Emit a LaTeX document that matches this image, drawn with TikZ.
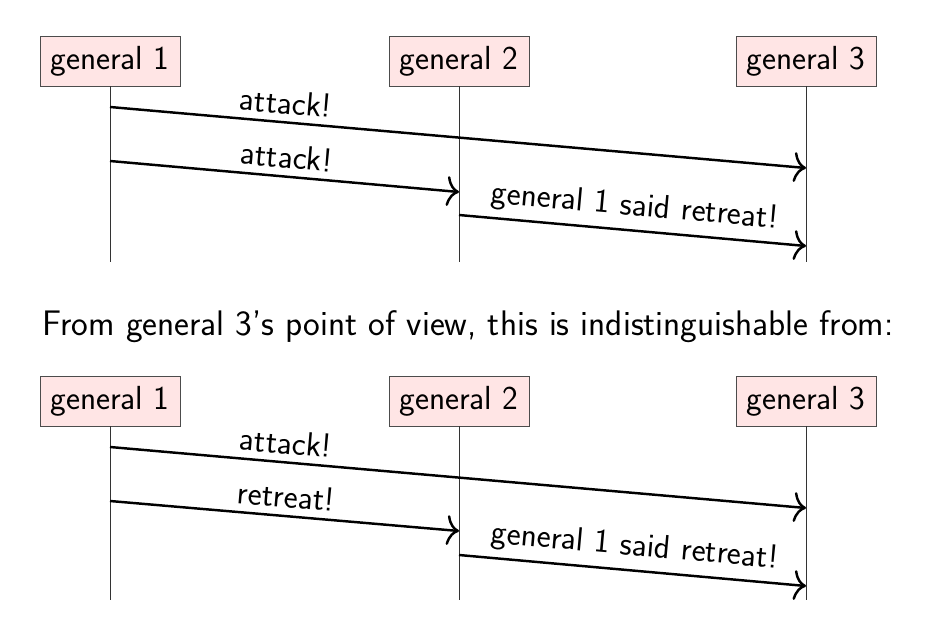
\documentclass[tikz,border=0pt]{standalone}
\usetikzlibrary{positioning,arrows.meta}
\renewcommand{\familydefault}{\sfdefault}
\tikzset{
  general/.style={draw=black!70, fill=red!10, minimum width=2.8cm, minimum height=1cm, inner sep=0pt},
  life/.style={draw=black!80, thin},
  msg/.style={-{To[length=7pt, width=17pt]}, line width=1.4pt},
  lbl/.style={sloped, above, inner sep=4pt}
}
\begin{document}
\begin{tikzpicture}[x=0.02cm, y=-0.02cm, font=\fontsize{19}{23}\selectfont]
    \useasboundingbox (0,0) rectangle (929,622);
    %% Generals and lifelines (first run)
    \node[general] (g1) at (110,61) {general 1};
    \node[general] (g2) at (459,61) {general 2};
    \node[general] (g3) at (806,61) {general 3};
    \draw[life] (g1) -- (g1 |- 0,262);
    \draw[life] (g2) -- (g2 |- 0,262);
    \draw[life] (g3) -- (g3 |- 0,262);
    %% Messages
    \draw[msg] (g1 |- 0,107) -- node[lbl, pos=0.25] {attack!} (g3 |- 0,168);
    \draw[msg] (g1 |- 0,161) -- node[lbl] {attack!} (g2 |- 0,192);
    \draw[msg] (g2 |- 0,215) -- node[lbl] {general 1 said retreat!} (g3 |- 0,246);
    %% Caption
    \node[font=\fontsize{20.2}{24}\selectfont] (cap) at (468,327) {From general 3's point of view, this is indistinguishable from:};
    %% Generals and lifelines (second run)
    \node[general] (h1) at (110,401) {general 1};
    \node[general] (h2) at (459,401) {general 2};
    \node[general] (h3) at (806,401) {general 3};
    \draw[life] (h1) -- (h1 |- 0,600);
    \draw[life] (h2) -- (h2 |- 0,600);
    \draw[life] (h3) -- (h3 |- 0,600);
    %% Messages
    \draw[msg] (h1 |- 0,447) -- node[lbl, pos=0.25] {attack!} (h3 |- 0,508);
    \draw[msg] (h1 |- 0,501) -- node[lbl] {retreat!} (h2 |- 0,531);
    \draw[msg] (h2 |- 0,555) -- node[lbl] {general 1 said retreat!} (h3 |- 0,586);
\end{tikzpicture}
\end{document}
